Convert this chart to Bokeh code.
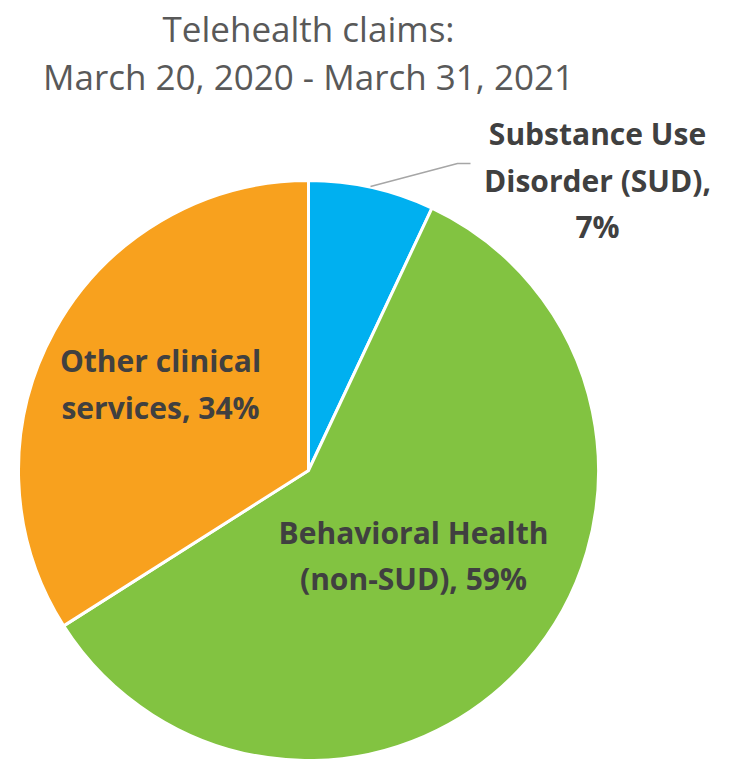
import numpy as np
from bokeh.plotting import figure
from bokeh.models import Range1d
from bokeh.core.properties import value
from bokeh.embed import file_html
from bokeh.resources import INLINE

# Data
categories = ["Substance Use Disorder (SUD)", "Behavioral Health (non-SUD)", "Other clinical services"]
label_lines = [["Substance Use", "Disorder (SUD),"], ["Behavioral Health", "(non-SUD),"], ["Other clinical", "services,"]]
shares = [7, 59, 34]
colors = ["#00B0F0", "#82C341", "#F8A11E"]
title_lines = ["Telehealth claims:", "March 20, 2020 - March 31, 2021"]

W, H = 732, 759
p = figure(width=W, height=H, output_backend="svg", toolbar_location=None,
           x_range=Range1d(0, W), y_range=Range1d(-H, 0),
           min_border=0, outline_line_color=None)
p.axis.visible = False
p.grid.visible = False
p.background_fill_color = "white"

# Pie
cx, cy, r = 308, -470, 290
vals = np.array(shares, dtype=float)
frac = vals / vals.sum()
cum = np.concatenate([[0], np.cumsum(frac)])
start = np.pi / 2 - cum[:-1] * 2 * np.pi
end = np.pi / 2 - cum[1:] * 2 * np.pi
p.wedge(x=cx, y=cy, radius=r, start_angle=start, end_angle=end, direction="clock",
        fill_color=colors, line_color="white", line_width=3)

# Title
font = value("Open Sans")
p.text(x=[308, 308], y=[-28, -76], text=title_lines, text_font=font, text_font_size="35px",
       text_color="#595959", text_align="center", text_baseline="middle")

# Labels
label_pos = [(597, [-133, -180, -226]), (160, [-360, -407]), (413, [-532, -578])]
order = [0, 2, 1]
lx, ly, lt = [], [], []
for (x, ys), i in zip(label_pos, order):
    lines = list(label_lines[i])
    if i == 0:
        lines = lines + [f"{shares[i]}%"]
    else:
        lines[-1] = lines[-1] + f" {shares[i]}%"
    for yy, t in zip(ys, lines):
        lx.append(x); ly.append(yy); lt.append(t)
p.text(x=lx, y=ly, text=lt, text_font=font, text_font_style="bold", text_font_size="30px",
       text_color="#404040", text_align="center", text_baseline="middle")

# Leader line for SUD label
p.line(x=[370, 457, 470], y=[-186, -163, -163], line_color="#A6A6A6", line_width=1.5)

open("out.html", "w").write(file_html(p, INLINE))
